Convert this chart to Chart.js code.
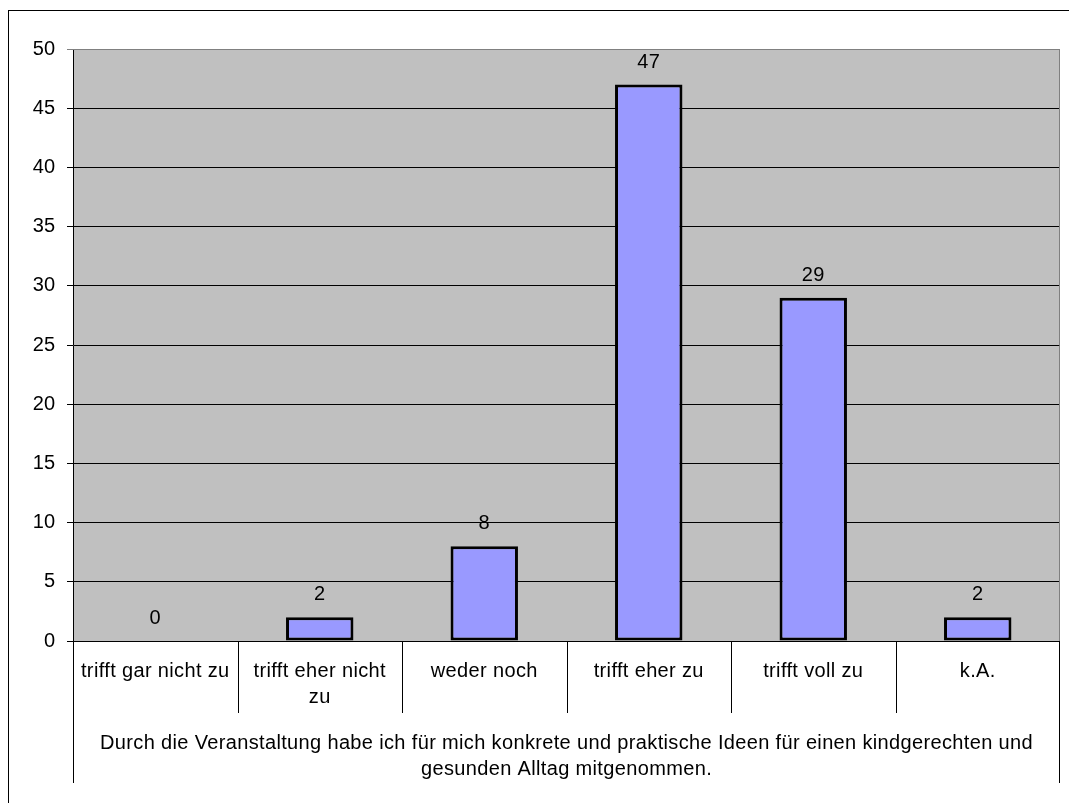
<!DOCTYPE html>
<html>
<head>
<meta charset="utf-8">
<script src="https://cdn.jsdelivr.net/npm/chart.js@4"></script>
<style>
  html, body { margin: 0; padding: 0; background: #fff; }
  #wrap { width: 1069px; height: 803px; }
</style>
</head>
<body>
<div id="wrap"><canvas id="chart" width="1069" height="803"></canvas></div>
<script>
// answers to one survey statement
var categories = [
  ["trifft gar nicht zu"],
  ["trifft eher nicht", "zu"],
  ["weder noch"],
  ["trifft eher zu"],
  ["trifft voll zu"],
  ["k.A."]
];
var counts = [0, 2, 8, 47, 29, 2];
var yTicks = [0, 5, 10, 15, 20, 25, 30, 35, 40, 45, 50];
var groupTitle = [
  "Durch die Veranstaltung habe ich für mich konkrete und praktische Ideen für einen kindgerechten und",
  "gesunden Alltag mitgenommen."
];

var FONT = '20px "Liberation Sans", Arial, sans-serif';

// frame, plot border, category axis and value labels
var decorations = {
  id: "decorations",
  beforeDraw: function (chart) {
    var ctx = chart.ctx, a = chart.chartArea;
    ctx.save();
    ctx.fillStyle = "#c0c0c0";
    ctx.fillRect(a.left, a.top, a.right - a.left, a.bottom - a.top);
    ctx.restore();
  },
  afterDraw: function (chart) {
    var ctx = chart.ctx, a = chart.chartArea;
    var xs = chart.scales.x;
    ctx.save();

    // outer frame (only top/left visible)
    ctx.strokeStyle = "#000";
    ctx.lineWidth = 1;
    ctx.strokeRect(8.5, 10.5, 1200, 1000);

    // plot border top/right in gray
    ctx.strokeStyle = "#808080";
    ctx.beginPath();
    ctx.moveTo(a.left, a.top + 0.5); ctx.lineTo(a.right - 0.5, a.top + 0.5);
    ctx.lineTo(a.right - 0.5, a.bottom);
    ctx.stroke();

    // category separators
    var catW = (a.right - a.left) / categories.length;
    ctx.strokeStyle = "#000";
    for (var i = 0; i <= categories.length; i++) {
      var x = Math.round(xs.getPixelForValue(i) - catW / 2) + 0.5;
      if (i === categories.length) x = Math.round(a.right) - 0.5;
      var y2 = (i === 0 || i === categories.length) ? a.bottom + 142 : a.bottom + 72;
      ctx.beginPath();
      ctx.moveTo(x, a.bottom); ctx.lineTo(x, y2);
      ctx.stroke();
    }

    ctx.fillStyle = "#000";
    ctx.font = FONT;
    ctx.letterSpacing = "0.35px";
    ctx.textAlign = "center";
    ctx.textBaseline = "middle";

    // category labels
    categories.forEach(function (lines, i) {
      var cx = xs.getPixelForValue(i);
      lines.forEach(function (t, k) {
        ctx.fillText(t, cx, a.bottom + 30 + k * 26);
      });
    });

    // group title
    var mid = (a.left + a.right) / 2;
    groupTitle.forEach(function (t, k) {
      ctx.fillText(t, mid, a.bottom + 102 + k * 26);
    });

    // value labels
    ctx.textBaseline = "alphabetic";
    var meta = chart.getDatasetMeta(0);
    meta.data.forEach(function (bar, i) {
      ctx.fillText(String(counts[i]), bar.x, bar.y - 17);
    });

    ctx.restore();
  }
};

new Chart(document.getElementById("chart"), {
  type: "bar",
  data: {
    labels: categories.map(function (c) { return c.join(" "); }),
    datasets: [{
      data: counts,
      backgroundColor: "#9999ff",
      borderColor: "#000",
      borderWidth: 3,
      borderSkipped: false,
      barPercentage: 0.41,
      categoryPercentage: 1
    }]
  },
  options: {
    responsive: false,
    animation: false,
    events: [],
    layout: { padding: { left: 0, top: 49, right: 9, bottom: 162 } },
    plugins: { legend: { display: false }, tooltip: { enabled: false } },
    scales: {
      x: { display: false },
      y: {
        min: 0,
        max: 50,
        afterFit: function (s) { s.width = 73; },
        afterBuildTicks: function (s) { s.ticks = yTicks.map(function (v) { return { value: v }; }); },
        ticks: { color: "#000", font: { family: '"Liberation Sans", Arial, sans-serif', size: 20 }, padding: 12 },
        grid: {
          color: function (c) { return c.tick && c.tick.value === 50 ? "#808080" : "#000"; },
          lineWidth: 1,
          tickLength: 6
        },
        border: { display: true, color: "#000", width: 1 }
      }
    }
  },
  plugins: [decorations]
});
</script>
</body>
</html>
